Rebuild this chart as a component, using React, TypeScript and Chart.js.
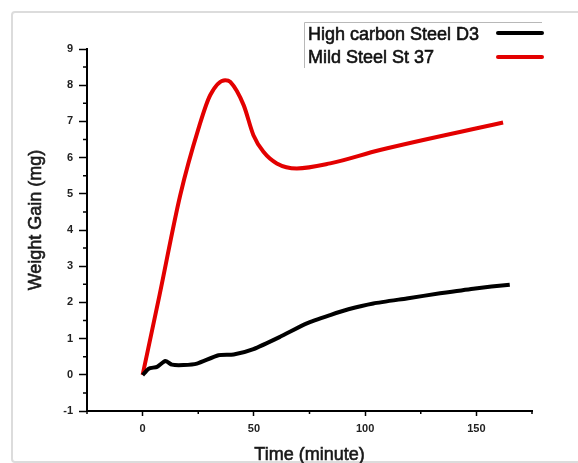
import { useEffect, useRef } from "react";
import { Chart, registerables } from "chart.js";

Chart.register(...registerables);

const seriesNames = ["High carbon Steel D3", "Mild Steel St 37"];
const seriesColors = ["#000000", "#e30000"];

// High carbon Steel D3
const carbonTime = [0, 2.7, 6.5, 10.2, 13.2, 18.4, 24.4, 34.1, 40.9, 49.8, 61.8, 73.8, 84.3, 92.5, 103.7, 118.7, 133.7, 148.6, 165];
const carbonGain = [-0.01, 0.17, 0.22, 0.38, 0.28, 0.27, 0.31, 0.54, 0.56, 0.71, 1.05, 1.42, 1.65, 1.81, 1.97, 2.11, 2.25, 2.38, 2.49];

// Mild Steel St 37
const mildTime = [0, 7.6, 16.9, 25.1, 30.4, 37.1, 39.4, 45.4, 49.8, 54.3, 60.3, 69.3, 84.3, 106.7, 162];
const mildGain = [0, 2.2, 4.96, 6.8, 7.73, 8.14, 8.09, 7.45, 6.62, 6.16, 5.84, 5.7, 5.84, 6.21, 6.97];

const xTicks = [0, 50, 100, 150];
const xMinorTicks = [-25, 25, 75, 125, 175];
const yTicks = [-1, 0, 1, 2, 3, 4, 5, 6, 7, 8, 9];
const yMinorTicks = [-0.5, 0.5, 1.5, 2.5, 3.5, 4.5, 5.5, 6.5, 7.5, 8.5];
const xTitle = "Time (minute)";
const yTitle = "Weight Gain (mg)";

const FONT = "'Liberation Sans', Arial, sans-serif";

function boldText(ctx: CanvasRenderingContext2D, text: string, x: number, y: number) {
  ctx.fillText(text, x, y);
  ctx.lineWidth = 0.6;
  ctx.strokeStyle = ctx.fillStyle as string;
  ctx.strokeText(text, x, y);
}

const minorTicksPlugin = {
  id: "minorTicks",
  afterDraw(chart: any) {
    const ctx = chart.ctx;
    const xs = chart.scales.x;
    const ys = chart.scales.y;
    ctx.save();
    ctx.strokeStyle = "#000";
    ctx.lineWidth = 1.5;
    ctx.beginPath();
    for (const v of yMinorTicks) {
      const py = ys.getPixelForValue(v);
      ctx.moveTo(ys.right - 4, py);
      ctx.lineTo(ys.right, py);
    }
    for (const v of xMinorTicks) {
      const px = xs.getPixelForValue(v);
      ctx.moveTo(px, xs.top);
      ctx.lineTo(px, xs.top + 3);
    }
    ctx.stroke();
    ctx.restore();
  },
};

const titlesPlugin = {
  id: "axisTitles",
  afterDraw(chart: any) {
    const ctx = chart.ctx;
    const area = chart.chartArea;
    ctx.save();
    ctx.fillStyle = "#1a1a1a";
    ctx.font = `18px ${FONT}`;
    ctx.textAlign = "center";
    ctx.textBaseline = "alphabetic";
    boldText(ctx, xTitle, (area.left + area.right) / 2, 459.5);
    ctx.translate(41, (area.top + area.bottom) / 2 - 10);
    ctx.rotate(-Math.PI / 2);
    boldText(ctx, yTitle, 0, 0);
    ctx.restore();
  },
};

const legendPlugin = {
  id: "customLegend",
  afterDraw(chart: any) {
    const ctx = chart.ctx;
    ctx.save();
    ctx.strokeStyle = "#b8b8b8";
    ctx.lineWidth = 1;
    ctx.beginPath();
    ctx.moveTo(304.5, 68);
    ctx.lineTo(304.5, 22.5);
    ctx.lineTo(542, 22.5);
    ctx.stroke();
    const baselines = [40, 63];
    const lineRows = [33, 57];
    chart.data.datasets.forEach((ds: any, i: number) => {
      ctx.fillStyle = "#111";
      ctx.font = `18px ${FONT}`;
      ctx.textBaseline = "alphabetic";
      ctx.textAlign = "left";
      boldText(ctx, ds.label, 308, baselines[i]);
      ctx.strokeStyle = ds.borderColor;
      ctx.lineWidth = 4;
      ctx.lineCap = "round";
      ctx.beginPath();
      ctx.moveTo(498, lineRows[i]);
      ctx.lineTo(542, lineRows[i]);
      ctx.stroke();
    });
    ctx.restore();
  },
};

export default function App() {
  const canvasRef = useRef<HTMLCanvasElement | null>(null);

  useEffect(() => {
    const canvas = canvasRef.current;
    if (!canvas) return;
    const chart = new Chart(canvas, {
      type: "scatter",
      data: {
        datasets: [
          {
            label: seriesNames[0],
            data: carbonTime.map((t, i) => ({ x: t, y: carbonGain[i] })),
            borderColor: seriesColors[0],
            backgroundColor: seriesColors[0],
            showLine: true,
            pointRadius: 0,
            borderWidth: 4,
            tension: 0.2,
          },
          {
            label: seriesNames[1],
            data: mildTime.map((t, i) => ({ x: t, y: mildGain[i] })),
            borderColor: seriesColors[1],
            backgroundColor: seriesColors[1],
            showLine: true,
            pointRadius: 0,
            borderWidth: 4,
            cubicInterpolationMode: "monotone",
          },
        ],
      },
      options: {
        animation: false,
        responsive: false,
        maintainAspectRatio: false,
        layout: { padding: { top: 49, right: 46, left: 0, bottom: 0 } },
        plugins: {
          legend: { display: false },
          tooltip: { enabled: false },
        },
        scales: {
          x: {
            type: "linear",
            min: -25,
            max: 175,
            afterBuildTicks: (s: any) => {
              s.ticks = xTicks.map((v) => ({ value: v }));
            },
            afterFit: (s: any) => {
              s.height = 52;
            },
            grid: {
              drawOnChartArea: false,
              drawTicks: true,
              tickLength: 5,
              tickColor: "#000",
              tickWidth: 1.5,
            },
            border: { display: true, color: "#000", width: 2 },
            ticks: {
              font: { family: FONT, size: 11, weight: "bold" },
              color: "#222",
              padding: 6,
              maxRotation: 0,
            },
            title: { display: false },
          },
          y: {
            type: "linear",
            min: -1,
            max: 9,
            afterBuildTicks: (s: any) => {
              s.ticks = yTicks.map((v) => ({ value: v }));
            },
            afterFit: (s: any) => {
              s.width = 87;
            },
            grid: {
              drawOnChartArea: false,
              drawTicks: true,
              tickLength: 8,
              tickColor: "#000",
              tickWidth: 1.5,
            },
            border: { display: true, color: "#000", width: 2 },
            ticks: {
              font: { family: FONT, size: 11, weight: "bold" },
              color: "#222",
              padding: 6,
            },
            title: { display: false },
          },
        },
      },
      plugins: [minorTicksPlugin, titlesPlugin, legendPlugin],
    } as any);
    return () => chart.destroy();
  }, []);

  return (
    <div
      style={{
        position: "absolute",
        left: 0,
        top: 0,
        width: 578,
        height: 463,
        overflow: "hidden",
        background: "#fff",
      }}
    >
      <div
        style={{
          position: "absolute",
          left: 11,
          top: 11,
          width: 600,
          height: 448,
          border: "2px solid #dcdcdc",
          borderRadius: 4,
        }}
      />
      <canvas
        ref={canvasRef}
        width={578}
        height={463}
        style={{ position: "absolute", left: 0, top: 0, width: 578, height: 463 }}
      />
    </div>
  );
}
